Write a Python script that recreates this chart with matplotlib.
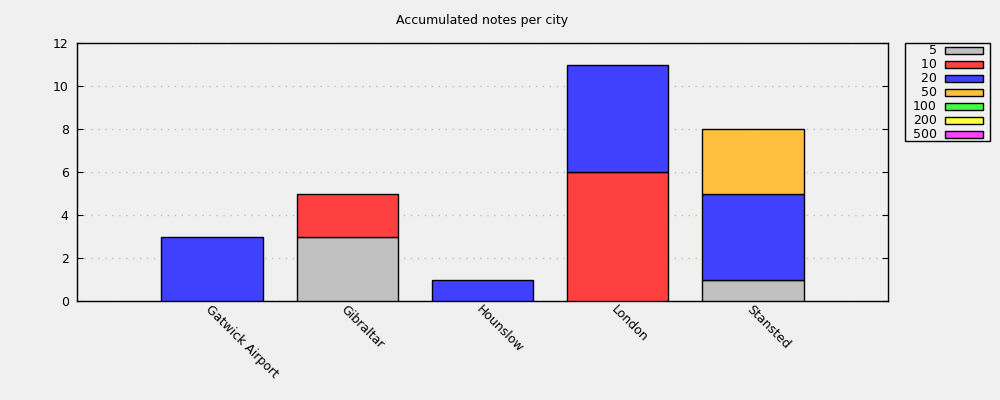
import matplotlib
matplotlib.use("Agg")
import matplotlib.pyplot as plt
import numpy as np

cities = ["Gatwick Airport", "Gibraltar", "Hounslow", "London", "Stansted"]
denoms = ["5", "10", "20", "50", "100", "200", "500"]
colors = ["#c0c0c0", "#ff4040", "#4040ff", "#ffc040", "#40ff40", "#ffff40", "#ff40ff"]
v5   = [0, 3, 0, 0, 1]
v10  = [0, 2, 0, 6, 0]
v20  = [3, 0, 1, 5, 4]
v50  = [0, 0, 0, 0, 3]
v100 = [0, 0, 0, 0, 0]
v200 = [0, 0, 0, 0, 0]
v500 = [0, 0, 0, 0, 0]
series = [v5, v10, v20, v50, v100, v200, v500]
yticks = [0, 2, 4, 6, 8, 10, 12]

bg = "#f0f0f0"
fig = plt.figure(figsize=(10, 4), dpi=100, facecolor=bg)
ax = fig.add_axes([0.077, 0.2475, 0.811, 0.645], facecolor=bg)

x = np.arange(len(cities))
bottom = np.zeros(len(cities))
handles = []
for lab, col, vals in zip(denoms, colors, series):
    vals = np.array(vals, dtype=float)
    mask = vals > 0
    ax.bar(x[mask], vals[mask], width=0.75, bottom=bottom[mask], color=col,
           edgecolor="black", linewidth=1, zorder=3)
    h = plt.Rectangle((0, 0), 1, 1, facecolor=col, edgecolor="black", linewidth=1)
    handles.append(h)
    bottom += vals

ax.set_xlim(-1, 5)
ax.set_ylim(0, 12)
ax.set_yticks(yticks)
ax.set_xticks(x)
ax.set_xticklabels(cities, rotation=-45, ha="left", va="top", rotation_mode="anchor", fontsize=9)
ax.tick_params(axis="y", direction="in", length=4, right=True, labelsize=9, pad=6)
ax.tick_params(axis="x", direction="in", length=0, pad=1.5)
ax.yaxis.grid(True, linestyle=(0, (1, 4)), color="#c0c0c0", linewidth=1, zorder=0)
for s in ax.spines.values():
    s.set_linewidth(1)
    s.set_color("black")

ax.set_title("Accumulated notes per city", fontsize=9, pad=14)

# legend frame drawn separately (gnuplot-style box)
frame = plt.Rectangle((0.905, 1 - 141 / 400), 0.085, 98 / 400, transform=fig.transFigure,
                      facecolor=bg, edgecolor="black", linewidth=1, zorder=5)
fig.add_artist(frame)

labels = [d.rjust(3, "\u2007") for d in denoms]
leg = fig.legend(handles, labels, loc="upper left", bbox_to_anchor=(0.913, 1 - 44.5 / 400),
                 markerfirst=False, fontsize=9, frameon=False,
                 handlelength=3.04, handleheight=0.5, labelspacing=0.08,
                 borderpad=0, handletextpad=0.64, borderaxespad=0)
leg.set_zorder(6)

fig.savefig("out.png", dpi=100, facecolor=bg)
